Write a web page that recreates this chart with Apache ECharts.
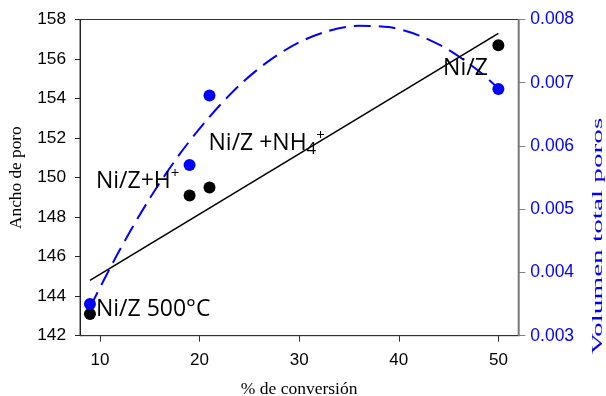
<!DOCTYPE html>
<html>
<head>
<meta charset="utf-8">
<script src="https://cdn.jsdelivr.net/npm/echarts@6/dist/echarts.min.js"></script>
<style>
html,body{margin:0;padding:0;background:#fff;}
#chart{width:606px;height:396px;}
</style>
</head>
<body>
<div id="chart"></div>
<script>
// ---- data ----
const conversion = [9, 19, 21, 50];
const anchoPoro = [143.1, 149.1, 149.5, 156.7];
const volumenPoros = [0.0035, 0.0057, 0.0068, 0.0069];

// regression line of "Ancho de poro" (read at its two ends)
const anchoFitX = [9, 50];
const anchoFitY = [144.8, 157.3];

// dashed curve of "Volumen total poros"
const volumenFitX = [9, 12, 15, 18, 21, 24, 27, 30, 33, 36, 39, 42, 45, 48, 50];
const volumenFitY = [0.00345, 0.00436, 0.00517, 0.00587, 0.00646, 0.00696, 0.00735, 0.00764,
                     0.00782, 0.00790, 0.00788, 0.00775, 0.00752, 0.00719, 0.00691];

const xTicks = [10, 20, 30, 40, 50];
const leftTicks = [142, 144, 146, 148, 150, 152, 154, 156, 158];
const rightTicks = [0.003, 0.004, 0.005, 0.006, 0.007, 0.008];

// annotations (text anchor in data coordinates of the left axis)
const annotationText = ['{m|Ni/Z 500°C}', '{m|Ni/Z+H}{sup|+}', '{m|Ni/Z +NH}{sub|4}{sup|+}', '{m|Ni/Z}'];
const annotationX = [9.6, 9.6, 20.9, 44.45];
const annotationY = [143.35, 149.8, 151.75, 155.5];

const xTitle = '% de conversión';
const leftTitle = 'Ancho de poro';
const rightTitle = 'Volumen total poros';

const chart = echarts.init(document.getElementById('chart'), null, {renderer: 'canvas'});

const sans = 'Liberation Sans';
const serif = 'Liberation Serif';

chart.setOption({
  animation: false,
  backgroundColor: '#ffffff',
  grid: {
    left: 80, right: 87.7, top: 19.5, bottom: 60.3,
    outerBoundsMode: 'none', containLabel: false,
    show: true, borderColor: '#333', borderWidth: 1, backgroundColor: 'transparent'
  },
  xAxis: {
    type: 'value', min: 8, max: 52,
    name: xTitle, nameLocation: 'middle', nameGap: 45,
    nameTextStyle: {fontFamily: serif, fontSize: 17.5, color: '#000'},
    axisLine: {show: true, lineStyle: {color: '#333', width: 1}},
    axisTick: {show: true, length: 6, customValues: xTicks, lineStyle: {color: '#333'}},
    axisLabel: {customValues: xTicks, margin: 16, fontFamily: sans, fontSize: 17, color: '#000'},
    splitLine: {show: false}
  },
  yAxis: [{
    type: 'value', min: leftTicks[0], max: leftTicks[leftTicks.length - 1], interval: 2,
    position: 'left',
    name: leftTitle, nameLocation: 'middle', nameGap: 55,
    nameTextStyle: {fontFamily: serif, fontSize: 17.3, color: '#000'},
    axisLine: {show: true, lineStyle: {color: '#222', width: 1}},
    axisTick: {show: true, length: 5, lineStyle: {color: '#222'}},
    axisLabel: {margin: 14, fontFamily: sans, fontSize: 17.3, color: '#000'},
    splitLine: {show: false}
  }, {
    type: 'value', min: rightTicks[0], max: rightTicks[rightTicks.length - 1], interval: 0.001,
    position: 'right',
    axisLine: {show: true, lineStyle: {color: '#808080', width: 1.5}},
    axisTick: {show: true, length: 7, lineStyle: {color: '#808080'}},
    axisLabel: {margin: 12, fontFamily: sans, fontSize: 17.5, color: '#0000ff',
      formatter: v => v.toFixed(3)},
    splitLine: {show: false}
  }],
  graphic: [{
    type: 'text', x: 598.5, y: 236, rotation: Math.PI / 2, scaleX: 1.95,
    style: {text: rightTitle, fontFamily: serif, fontSize: 15, fill: '#0000ff',
      align: 'center', verticalAlign: 'middle'}
  }],
  series: [{
    type: 'line', yAxisIndex: 0, symbol: 'none', z: 3,
    data: anchoFitX.map((x, i) => [x, anchoFitY[i]]),
    lineStyle: {color: '#000', width: 1.6}
  }, {
    type: 'line', yAxisIndex: 1, symbol: 'none', smooth: 0.3, z: 2,
    data: volumenFitX.map((x, i) => [x, volumenFitY[i]]),
    lineStyle: {color: '#0000ff', width: 2, type: [17, 8]}
  }, {
    type: 'scatter', yAxisIndex: 0, symbolSize: 12, z: 5,
    data: conversion.map((x, i) => [x, anchoPoro[i]]),
    itemStyle: {color: '#000', opacity: 1}
  }, {
    type: 'scatter', yAxisIndex: 1, symbolSize: 12, z: 5,
    data: conversion.map((x, i) => [x, volumenPoros[i]]),
    itemStyle: {color: '#0000ff', opacity: 1}
  }, {
    type: 'scatter', yAxisIndex: 0, symbolSize: 0, z: 6, silent: true,
    itemStyle: {opacity: 1, color: '#000'},
    data: annotationX.map((x, i) => ({value: [x, annotationY[i]], text: annotationText[i]})),
    label: {
      show: true, position: 'right', distance: 0, opacity: 1,
      formatter: p => p.data.text,
      rich: {
        m: {fontFamily: 'Open Sans', fontSize: 23, color: '#000', lineHeight: 30},
        sup: {fontFamily: 'Open Sans', fontSize: 15, color: '#000', lineHeight: 15, verticalAlign: 'top'},
        sub: {fontFamily: 'Open Sans', fontSize: 17, color: '#000', lineHeight: 17, verticalAlign: 'bottom'}
      }
    }
  }]
});
</script>
</body>
</html>
